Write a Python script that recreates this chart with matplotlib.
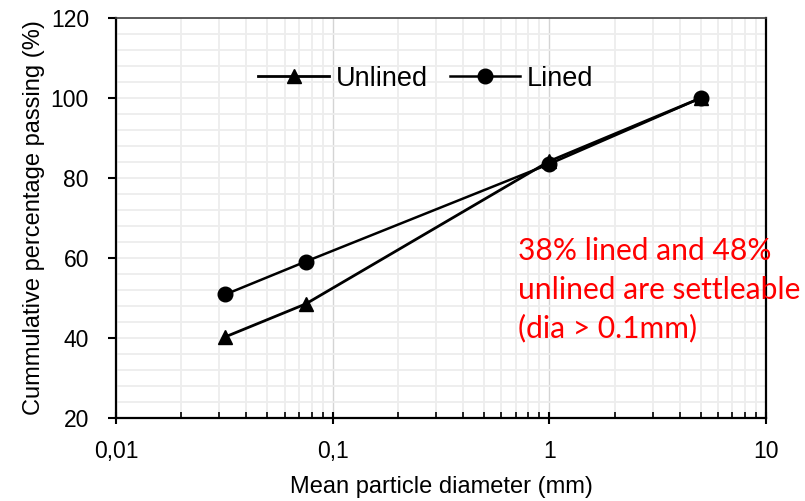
import numpy as np
import matplotlib.pyplot as plt
from matplotlib.ticker import MultipleLocator, LogLocator, NullFormatter

# particle size distribution
dia_unlined = [0.032, 0.075, 1.0, 5.0]
pass_unlined = [40.3, 48.5, 84.2, 100.0]
dia_lined = [0.032, 0.075, 1.0, 5.0]
pass_lined = [50.9, 59.1, 83.5, 100.0]

xticks = [0.01, 0.1, 1, 10]
xtick_labels = ['0,01', '0,1', '1', '10']
yticks = [20, 40, 60, 80, 100, 120]

plt.rcParams['font.family'] = ['Liberation Sans', 'DejaVu Sans']

fig = plt.figure(figsize=(8.05, 5.01), dpi=100)
ax = fig.add_axes([116/805, 1-418/501, 650/805, 400/501])

ax.set_xscale('log')
ax.set_xlim(0.01, 10)
ax.set_ylim(20, 120)

# grid: light minor lines, slightly darker major verticals
ax.yaxis.set_minor_locator(MultipleLocator(4))
ax.xaxis.set_minor_locator(LogLocator(base=10, subs=np.arange(2, 10)))
ax.xaxis.set_minor_formatter(NullFormatter())
ax.grid(which='minor', axis='both', color='#ededed', lw=1.3, zorder=0)
ax.grid(which='major', axis='y', color='#ededed', lw=1.3, zorder=0)
ax.grid(which='major', axis='x', color='#d4d4d4', lw=1.0, zorder=0)
ax.set_axisbelow(True)

ax.plot(dia_unlined, pass_unlined, color='black', lw=2, marker='^', ms=10.5,
        label='Unlined', zorder=3)
ax.plot(dia_lined, pass_lined, color='black', lw=1.8, marker='o', ms=10.5,
        label='Lined', zorder=3)

ax.set_xticks(xticks)
ax.set_xticklabels(xtick_labels)
ax.set_yticks(yticks)

ax.tick_params(axis='y', which='major', direction='out', length=6, width=1.5,
               labelsize=16.5, pad=13.5)
ax.tick_params(axis='y', which='minor', length=0)
ax.tick_params(axis='x', which='major', direction='inout', length=9, width=1.5,
               labelsize=16.5, pad=11.5)
ax.tick_params(axis='x', which='minor', direction='in', length=4.5, width=1.2)

for s in ['left', 'bottom', 'right']:
    ax.spines[s].set_linewidth(1.6)
    ax.spines[s].set_color('black')
ax.spines['top'].set_linewidth(1.2)
ax.spines['top'].set_color('#404040')

ax.set_xlabel('Mean particle diameter (mm)', fontsize=17, labelpad=9)
ax.set_ylabel('Cummulative percentage passing (%)', fontsize=17, labelpad=4)

ax.legend(loc='center', bbox_to_anchor=(0.477, 0.848), ncol=2, frameon=False,
          fontsize=19.5, handlelength=2.6, handletextpad=0.26,
          columnspacing=0.8, borderpad=0, borderaxespad=0)

ax.text(0.715, 52, '38% lined and 48%\nunlined are settleable\n(dia > 0.1mm)',
        color='#ff0000', fontsize=21.6, family=['Lato', 'DejaVu Sans'],
        ha='left', va='center', linespacing=1.45)

fig.savefig('out.png', dpi=100)
